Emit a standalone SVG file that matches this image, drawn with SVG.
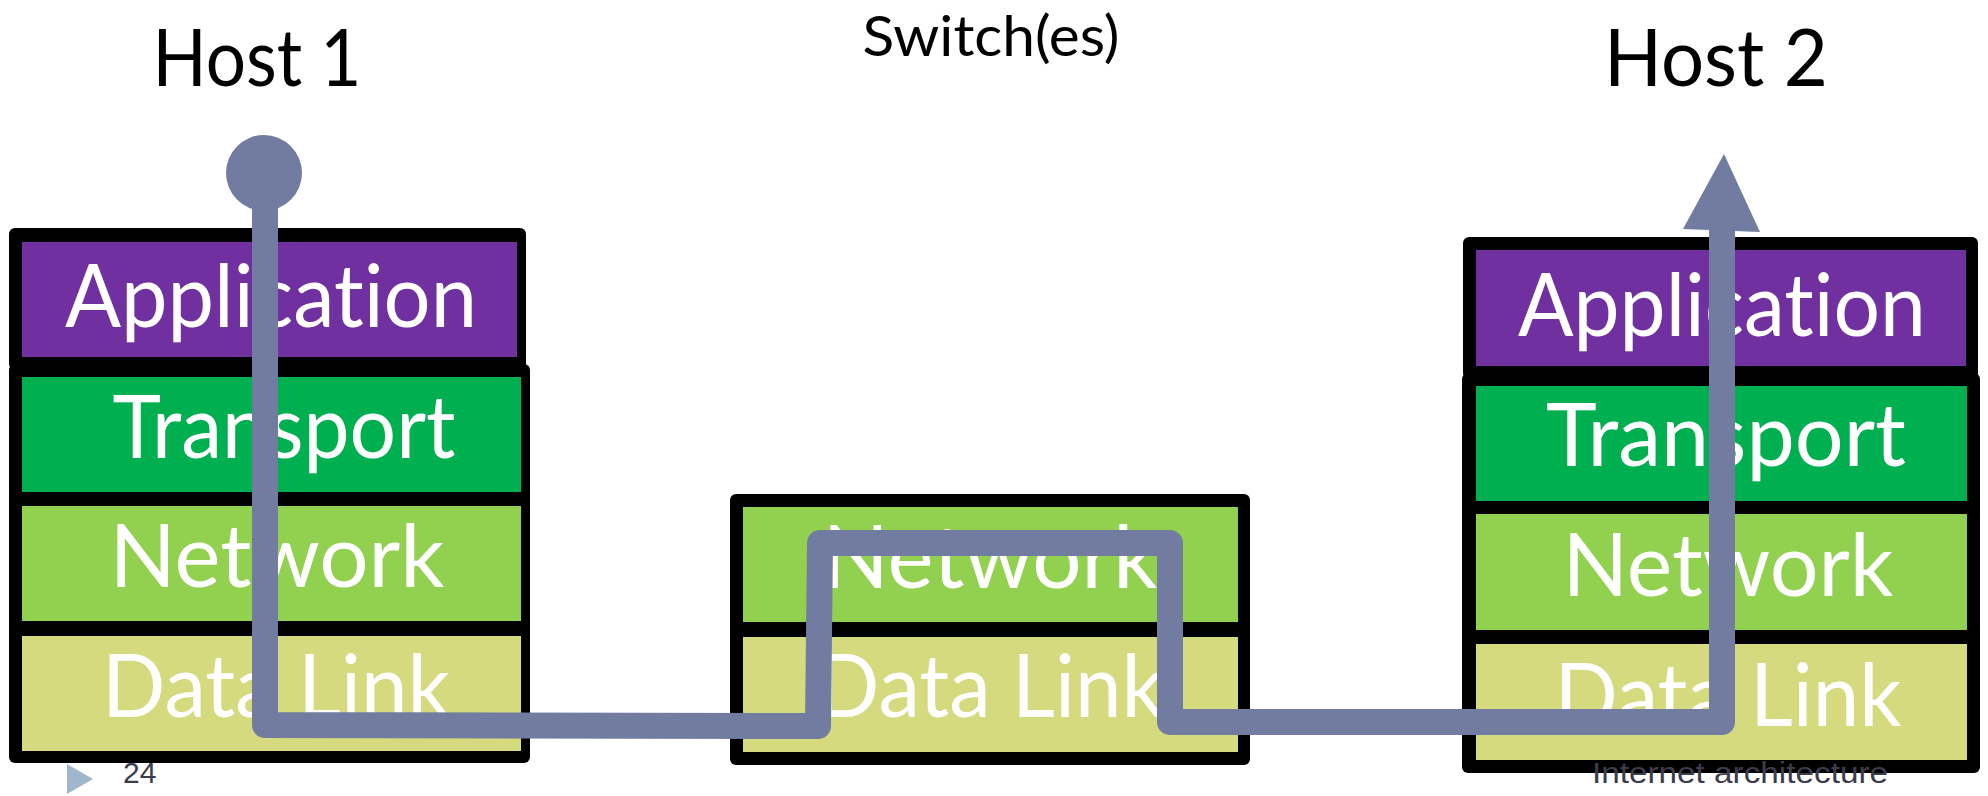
<svg xmlns="http://www.w3.org/2000/svg" width="1988" height="796" viewBox="0 0 1988 796">
  <style>
    .frame { fill: #000000; }
    .app { fill: #7030A0; }
    .trans { fill: #00B050; }
    .net { fill: #92D050; }
    .link { fill: #D4DA7D; }
    .layer { font-family: Lato, "Open Sans", sans-serif; font-size: 88px; fill: #FFFFFF; text-anchor: middle; font-variant-ligatures: none; }
    .title { font-family: Lato, "Open Sans", sans-serif; fill: #000000; text-anchor: middle; font-variant-ligatures: none; }
    .foot { font-family: "Liberation Sans", Arial, sans-serif; font-size: 30px; fill: #3C3C4C; }
    .path { fill: none; stroke: #717CA0; stroke-width: 26; stroke-linejoin: round; stroke-linecap: butt; }
    .pathfill { fill: #717CA0; }
  </style>

  <rect width="1988" height="796" fill="#FFFFFF"/>

  <!-- titles -->
  <text class="title" x="257" y="86" font-size="80" textLength="209" lengthAdjust="spacingAndGlyphs">Host 1</text>
  <text class="title" x="991" y="56" font-size="57" textLength="257" lengthAdjust="spacingAndGlyphs">Switch(es)</text>
  <text class="title" x="1716" y="86" font-size="80" textLength="224" lengthAdjust="spacingAndGlyphs">Host 2</text>

  <!-- Host 1 protocol stack -->
  <g id="host1">
    <rect class="frame" x="9" y="228" width="517" height="142" rx="6"/>
    <rect class="app" x="22" y="242" width="495" height="115"/>
    <rect class="frame" x="9" y="364" width="521" height="399" rx="6"/>
    <rect class="trans" x="22" y="377" width="499" height="115"/>
    <rect class="net" x="22" y="506" width="499" height="115"/>
    <rect class="link" x="22" y="636" width="499" height="115"/>
    <text class="layer" x="271" y="327" textLength="412" lengthAdjust="spacingAndGlyphs">Application</text>
    <text class="layer" x="284" y="458" textLength="343" lengthAdjust="spacingAndGlyphs">Transport</text>
    <text class="layer" x="277" y="587" textLength="335" lengthAdjust="spacingAndGlyphs">Network</text>
    <text class="layer" x="276" y="717" textLength="348" lengthAdjust="spacingAndGlyphs">Data Link</text>
  </g>

  <!-- Switch stack -->
  <g id="switch">
    <rect class="frame" x="730" y="494" width="520" height="271" rx="6"/>
    <rect class="net" x="743" y="507" width="495" height="115"/>
    <rect class="link" x="743" y="637" width="495" height="115"/>
    <text class="layer" x="990" y="588" textLength="335" lengthAdjust="spacingAndGlyphs">Network</text>
    <text class="layer" x="990" y="717" textLength="348" lengthAdjust="spacingAndGlyphs">Data Link</text>
  </g>

  <!-- Host 2 protocol stack -->
  <g id="host2">
    <rect class="frame" x="1463" y="237" width="515" height="142" rx="6"/>
    <rect class="app" x="1476" y="250" width="490" height="116"/>
    <rect class="frame" x="1462" y="373" width="518" height="400" rx="6"/>
    <rect class="trans" x="1476" y="386" width="491" height="115"/>
    <rect class="net" x="1476" y="514" width="491" height="116"/>
    <rect class="link" x="1476" y="644" width="491" height="116"/>
    <text class="layer" x="1722" y="336" textLength="408" lengthAdjust="spacingAndGlyphs">Application</text>
    <text class="layer" x="1726" y="466" textLength="360" lengthAdjust="spacingAndGlyphs">Transport</text>
    <text class="layer" x="1728" y="596" textLength="331" lengthAdjust="spacingAndGlyphs">Network</text>
    <text class="layer" x="1728" y="726" textLength="347" lengthAdjust="spacingAndGlyphs">Data Link</text>
  </g>

  <!-- data path from Host 1 through the switch up to Host 2 -->
  <g id="connectors">
    <circle class="pathfill" cx="264" cy="173" r="38"/>
    <path class="path" d="M265,200 L265,725 L818,726 L820,543 L1170,543 L1170,722 L1722,722 L1722,225"/>
    <polygon class="pathfill" points="1683,229 1724,154 1760,232"/>
  </g>

  <!-- slide footer -->
  <polygon points="67,764 93,779 67,794" fill="#A0B6CC"/>
  <text class="foot" x="123" y="783">24</text>
  <text class="foot" x="1592" y="783" textLength="296" lengthAdjust="spacingAndGlyphs">Internet architecture</text>
</svg>
